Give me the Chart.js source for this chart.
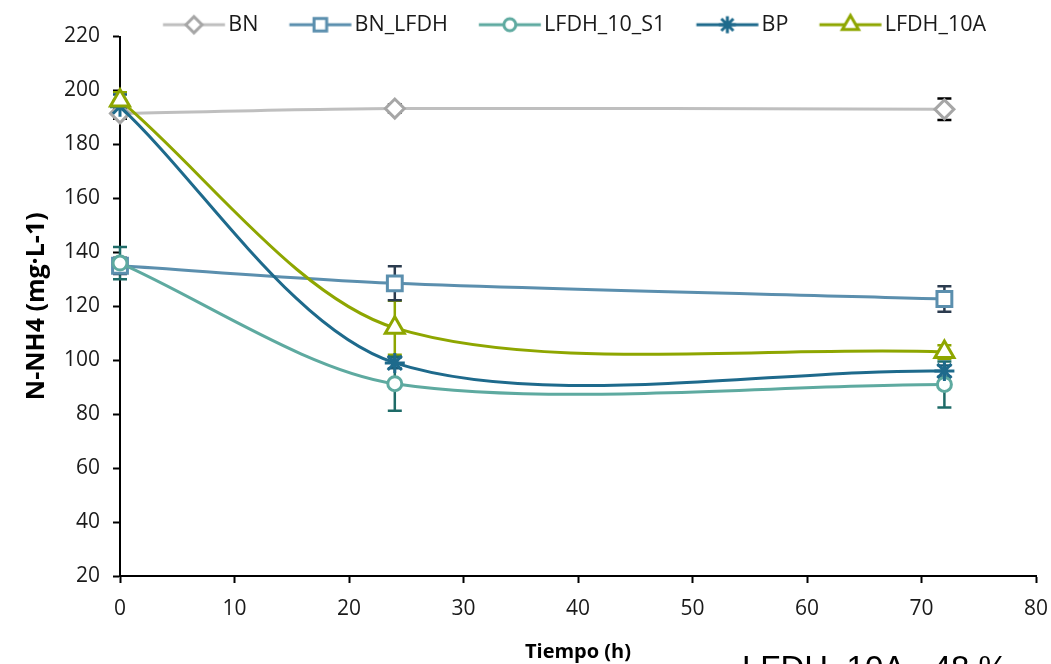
<!DOCTYPE html>
<html><head><meta charset="utf-8">
<script src="https://cdn.jsdelivr.net/npm/chart.js@4.4.1/dist/chart.umd.min.js"></script>
<style>
html,body{margin:0;padding:0;background:#fff;overflow:hidden;}
#wrap{position:relative;width:1051px;height:664px;overflow:hidden;background:#fff;}
#note{position:absolute;left:742px;top:651px;font-family:'Liberation Sans',Arial,sans-serif;font-size:33px;line-height:1;color:#000;white-space:nowrap;}
</style></head><body>
<div id="wrap"><canvas id="c" width="1051" height="664"></canvas><div id="note">LFDH_10A - 48 %</div></div>
<script>
// ---- data ----
const timeHours = [0, 24, 72];
const seriesNames = ['BN', 'BN_LFDH', 'LFDH_10_S1', 'BP', 'LFDH_10A'];
const bnValues      = [191.5, 193.3, 193];
const bnLfdhValues  = [135, 128.5, 122.7];
const lfdhS1Values  = [136, 91.3, 91];
const bpValues      = [194, 99, 96];
const lfdh10aValues = [196.3, 112, 103];
const bnErr      = [2, 1.5, 4];
const bnLfdhErr  = [3, 6.3, 4.7];
const lfdhS1Err  = [6, 10, 8.5];
const bpErr      = [4.5, 2, 2];
const lfdh10aErr = [3, 10, 2.5];
const yTicks = [20, 40, 60, 80, 100, 120, 140, 160, 180, 200, 220];
const xTicks = [0, 10, 20, 30, 40, 50, 60, 70, 80];

// ---- styles ----
const seriesValues = [bnValues, bnLfdhValues, lfdhS1Values, bpValues, lfdh10aValues];
const seriesErrors = [bnErr, bnLfdhErr, lfdhS1Err, bpErr, lfdh10aErr];
const styles = [
  {line:'#BFBFBF', marker:'#A6A6A6', err:'#000000', point:'rectRot', r:9.5, order:4},
  {line:'#5B8FAE', marker:'#5B8FAE', err:'#2B3B4E', point:'rect', r:10.5, order:3},
  {line:'#5EAAA0', marker:'#5EAAA0', err:'#1E6B68', point:'circle', r:7, order:2},
  {line:'#1E6A8C', marker:'#1E6A8C', err:'#1E5A78', point:'star', r:10, order:1},
  {line:'#8EA600', marker:'#8EA600', err:'#8EA600', point:'triangle', r:11, order:0}
];
const FONT = "'Open Sans', 'Liberation Sans', sans-serif";
const LEG_LEFT = 132, LEG_TOP = 11;

function drawMarker(ctx, type, x, y, r, color){
  ctx.save();
  ctx.strokeStyle = color; ctx.fillStyle = '#fff'; ctx.lineWidth = 3;
  ctx.beginPath();
  if (type === 'rectRot') { ctx.moveTo(x-r,y); ctx.lineTo(x,y-r); ctx.lineTo(x+r,y); ctx.lineTo(x,y+r); ctx.closePath(); }
  else if (type === 'rect') { const s = r*Math.SQRT1_2; ctx.rect(x-s,y-s,2*s,2*s); }
  else if (type === 'circle') { ctx.arc(x,y,r,0,Math.PI*2); }
  else if (type === 'triangle') {
    let a = 0;
    ctx.moveTo(x+Math.sin(a)*r, y-Math.cos(a)*r);
    a += 2*Math.PI/3; ctx.lineTo(x+Math.sin(a)*r, y-Math.cos(a)*r);
    a += 2*Math.PI/3; ctx.lineTo(x+Math.sin(a)*r, y-Math.cos(a)*r);
    ctx.closePath();
  } else if (type === 'star') {
    ctx.moveTo(x, y-r); ctx.lineTo(x, y+r); ctx.moveTo(x-r, y); ctx.lineTo(x+r, y);
    const d = r*Math.SQRT1_2;
    ctx.moveTo(x-d,y-d); ctx.lineTo(x+d,y+d); ctx.moveTo(x+d,y-d); ctx.lineTo(x-d,y+d);
    ctx.stroke(); ctx.restore(); return;
  }
  ctx.fill(); ctx.stroke(); ctx.restore();
}
function legendImage(st){
  const cv = document.createElement('canvas');
  cv.width = 180; cv.height = 26;
  const g = cv.getContext('2d');
  g.strokeStyle = st.line; g.lineWidth = 3;
  g.beginPath(); g.moveTo(76.75, 13); g.lineTo(138.75, 13); g.stroke();
  drawMarker(g, st.point, 107.75, 13, st.r*0.85, st.marker);
  return cv;
}
const legendImages = styles.map(legendImage);

const datasets = seriesNames.map((name, i) => ({
  label: name,
  data: timeHours.map((t, j) => ({x: t, y: seriesValues[i][j]})),
  borderColor: styles[i].line,
  backgroundColor: styles[i].line,
  borderWidth: 3,
  pointStyle: styles[i].point,
  pointRadius: styles[i].r,
  pointHoverRadius: styles[i].r,
  pointBorderColor: styles[i].marker,
  pointBackgroundColor: '#ffffff',
  pointBorderWidth: 3,
  tension: 0.3,
  clip: false,
  order: styles[i].order
}));

const errorBarPlugin = {
  id: 'errorBars',
  beforeDatasetsDraw(chart){
    const ctx = chart.ctx, xs = chart.scales.x, ys = chart.scales.y;
    ctx.save();
    ctx.lineWidth = 2.5;
    for (let i = seriesNames.length - 1; i >= 0; i--) {
      ctx.strokeStyle = styles[i].err;
      timeHours.forEach((t, j) => {
        const v = seriesValues[i][j], e = seriesErrors[i][j];
        const px = xs.getPixelForValue(t);
        const pt = ys.getPixelForValue(v + e), pb = ys.getPixelForValue(v - e);
        ctx.beginPath();
        ctx.moveTo(px, pt); ctx.lineTo(px, pb);
        ctx.moveTo(px - 7, pt); ctx.lineTo(px + 7, pt);
        ctx.moveTo(px - 7, pb); ctx.lineTo(px + 7, pb);
        ctx.stroke();
      });
    }
    ctx.restore();
  }
};
const legendPlacePlugin = {
  id: 'legendPlace',
  beforeDraw(chart){
    const lg = chart.legend;
    if (!lg) return;
    const w = lg.right - lg.left, h = lg.bottom - lg.top;
    lg.left = LEG_LEFT; lg.right = LEG_LEFT + w;
    lg.top = LEG_TOP; lg.bottom = LEG_TOP + h;
  }
};

new Chart(document.getElementById('c'), {
  type: 'line',
  data: { datasets },
  plugins: [errorBarPlugin, legendPlacePlugin],
  options: {
    responsive: false,
    animation: false,
    events: [],
    layout: { padding: { top: 2, right: 15, bottom: 0, left: 0 } },
    plugins: {
      tooltip: { enabled: false },
      legend: {
        display: true,
        position: 'top',
        align: 'start',
        labels: {
          usePointStyle: true,
          pointStyleWidth: 82.5,
          boxHeight: 21,
          padding: 3,
          color: '#1a1a1a',
          font: { family: FONT, size: 21.5 },
          generateLabels(chart){
            return seriesNames.map((n, i) => ({
              text: n, pointStyle: legendImages[i], datasetIndex: i,
              fillStyle: '#fff', strokeStyle: styles[i].line, lineWidth: 0, hidden: false, fontColor: '#1a1a1a'
            }));
          }
        }
      }
    },
    scales: {
      x: {
        type: 'linear', min: 0, max: 80,
        afterFit(s){ s.height = 88; s.paddingRight = 12; s.paddingLeft = 0; },
        afterBuildTicks(s){ s.ticks = xTicks.map(v => ({value: v})); },
        ticks: { color: '#1a1a1a', font: { family: FONT, size: 21 }, padding: 13, maxRotation: 0 },
        grid: { display: true, drawOnChartArea: false, drawTicks: true, tickLength: 7, tickColor: '#000', tickWidth: 2 },
        border: { display: true, color: '#000', width: 2 },
        title: { display: true, text: 'Tiempo (h)', color: '#000', font: { family: FONT, size: 20, weight: 'bold', lineHeight: 1.2 }, padding: { top: 0, bottom: 0 } }
      },
      y: {
        type: 'linear', min: 20, max: 220,
        afterFit(s){ s.width = 120; },
        afterBuildTicks(s){ s.ticks = yTicks.map(v => ({value: v})); },
        ticks: { color: '#1a1a1a', font: { family: FONT, size: 21 }, padding: 13 },
        grid: { display: true, drawOnChartArea: false, drawTicks: true, tickLength: 7, tickColor: '#000', tickWidth: 2 },
        border: { display: true, color: '#000', width: 2 },
        title: { display: true, text: 'N-NH4 (mg·L-1)', color: '#000', font: { family: FONT, size: 25, weight: 'bold', lineHeight: 1.2 }, padding: { top: 22, bottom: 0 } }
      }
    }
  }
});
</script></body></html>
